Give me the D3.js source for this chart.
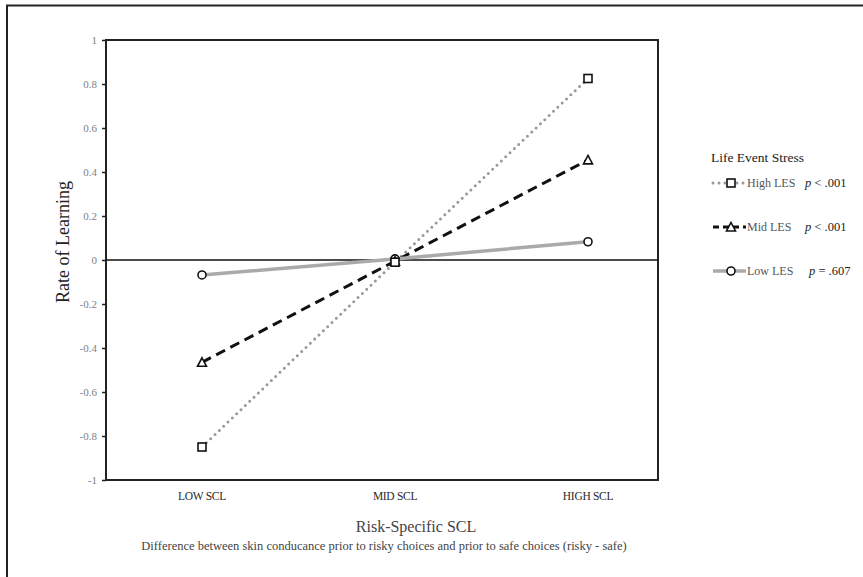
<!DOCTYPE html>
<html lang="en">
<head>
<meta charset="utf-8">
<title>Rate of Learning by Risk-Specific SCL</title>
<script src="https://cdn.jsdelivr.net/npm/d3@7"></script>
<style>
  body { margin: 0; background: #fff; }
  svg { display: block; font-family: "Liberation Serif", "DejaVu Serif", serif; }
</style>
</head>
<body>
<div id="chart"></div>
<script>
// categories on the x axis
var levels = ["LOW SCL", "MID SCL", "HIGH SCL"];

// rate of learning for each stress group
var highLES = [-0.85, -0.01, 0.825];
var midLES  = [-0.465, -0.005, 0.455];
var lowLES  = [-0.068, 0.005, 0.083];

var groupNames = ["High LES", "Mid LES", "Low LES"];
var pLabels = ["< .001", "< .001", "= .607"];
var yTicks = [1, 0.8, 0.6, 0.4, 0.2, 0, -0.2, -0.4, -0.6, -0.8, -1];

var W = 863, H = 577;
var plot = {left: 106, top: 40, right: 658, bottom: 480};

var svg = d3.select("#chart").append("svg")
  .attr("width", W).attr("height", H);

// outer frame (runs off the right and bottom edges)
svg.append("rect")
  .attr("x", 7).attr("y", 5.5)
  .attr("width", 880).attr("height", 600)
  .attr("fill", "none").attr("stroke", "#222").attr("stroke-width", 2);

var x = d3.scalePoint().domain(levels).range([202, 588]);
var y = d3.scaleLinear().domain([-1, 1]).range([plot.bottom, plot.top]);

// plot box
svg.append("rect")
  .attr("x", plot.left).attr("y", plot.top)
  .attr("width", plot.right - plot.left).attr("height", plot.bottom - plot.top)
  .attr("fill", "none").attr("stroke", "#222").attr("stroke-width", 2);

// y axis
var yAxis = d3.axisLeft(y).tickValues(yTicks).tickSize(4).tickPadding(5)
  .tickFormat(function(d) { return String(+d.toFixed(1)); });
var gy = svg.append("g").attr("transform", "translate(" + plot.left + ",0)").call(yAxis)
  .attr("font-family", null).attr("font-size", null);
gy.select(".domain").remove();
gy.selectAll("line").attr("stroke", "#222").attr("stroke-width", 1.5);
gy.selectAll("text").attr("fill", "#808080").style("font-size", "11px");

// zero line
svg.append("line")
  .attr("x1", plot.left).attr("x2", plot.right)
  .attr("y1", y(0)).attr("y2", y(0))
  .attr("stroke", "#111").attr("stroke-width", 1.5);

// x labels
svg.selectAll("text.xlab")
  .data(levels).enter().append("text")
  .attr("class", "xlab")
  .attr("x", function(d) { return x(d); })
  .attr("y", 500)
  .attr("text-anchor", "middle")
  .attr("fill", "#2a2a2a")
  .style("font-size", "11.5px")
  .style("letter-spacing", "-0.3px")
  .text(function(d) { return d; });

// axis titles
svg.append("text")
  .attr("transform", "translate(69,242) rotate(-90)")
  .attr("text-anchor", "middle")
  .attr("fill", "#222")
  .style("font-size", "18px")
  .text("Rate of Learning");

svg.append("text")
  .attr("x", 416).attr("y", 532)
  .attr("text-anchor", "middle").attr("fill", "#444")
  .style("font-size", "16px")
  .text("Risk-Specific SCL");

svg.append("text")
  .attr("x", 384).attr("y", 550)
  .attr("text-anchor", "middle").attr("fill", "#444")
  .style("font-size", "12.5px")
  .text("Difference between skin conducance prior to risky choices and prior to safe choices (risky - safe)");

var styles = [
  {values: highLES, stroke: "#999", width: 3, dash: "0 6", cap: "round", shape: "square"},
  {values: midLES,  stroke: "#111", width: 3, dash: "10 6", cap: "butt", shape: "triangle"},
  {values: lowLES,  stroke: "#aaa", width: 3.5, dash: null, cap: "butt", shape: "circle"}
];

var line = d3.line()
  .x(function(d, i) { return x(levels[i]); })
  .y(function(d) { return y(d); });

function marker(g, shape) {
  if (shape === "square") {
    g.append("rect").attr("x", -4).attr("y", -4).attr("width", 8).attr("height", 8)
      .attr("fill", "#fff").attr("stroke", "#111").attr("stroke-width", 1.6);
  } else if (shape === "triangle") {
    g.append("path").attr("d", "M0,-4.5L4.5,4L-4.5,4Z")
      .attr("fill", "#fff").attr("stroke", "#111").attr("stroke-width", 1.6);
  } else {
    g.append("circle").attr("r", 4)
      .attr("fill", "#fff").attr("stroke", "#111").attr("stroke-width", 1.6);
  }
}

styles.forEach(function(s) {
  svg.append("path")
    .datum(s.values)
    .attr("d", line)
    .attr("fill", "none")
    .attr("stroke", s.stroke)
    .attr("stroke-width", s.width)
    .attr("stroke-dasharray", s.dash)
    .attr("stroke-linecap", s.cap);
});

// markers drawn after lines, low first so others sit on top in the middle
styles.slice().reverse().forEach(function(s) {
  s.values.forEach(function(v, i) {
    var g = svg.append("g").attr("transform", "translate(" + x(levels[i]) + "," + y(v) + ")");
    marker(g, s.shape);
  });
});

// legend
var legend = svg.append("g");
legend.append("text")
  .attr("x", 711).attr("y", 162)
  .attr("fill", "#222")
  .style("font-size", "13.5px")
  .text("Life Event Stress");

var legendY = [183, 227, 271];
styles.forEach(function(s, i) {
  var ly = legendY[i];
  legend.append("line")
    .attr("x1", 713).attr("x2", 746).attr("y1", ly).attr("y2", ly)
    .attr("stroke", s.stroke).attr("stroke-width", s.width)
    .attr("stroke-dasharray", s.dash === "10 6" ? "6 4" : s.dash)
    .attr("stroke-linecap", s.cap);
  var g = legend.append("g").attr("transform", "translate(731," + ly + ")");
  marker(g, s.shape);
  legend.append("text")
    .attr("x", 747).attr("y", ly + 4)
    .attr("fill", "#555")
    .style("font-size", "12px")
    .text(groupNames[i]);
  var t = legend.append("text")
    .attr("x", i === 2 ? 809 : 805).attr("y", ly + 4)
    .attr("fill", "#222")
    .style("font-size", "12.5px");
  t.append("tspan").style("font-style", "italic").text("p");
  t.append("tspan").text(" " + pLabels[i]);
});
</script>
</body>
</html>
